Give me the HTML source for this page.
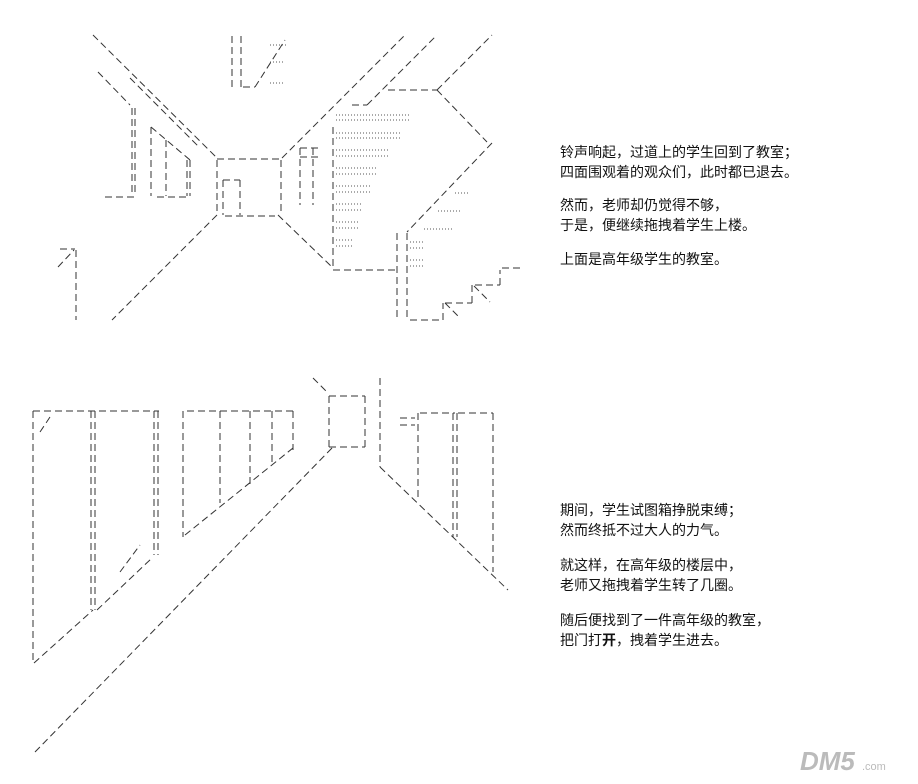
<!DOCTYPE html>
<html><head><meta charset="utf-8"><style>
html,body{margin:0;padding:0;background:#fff;width:918px;height:784px;overflow:hidden;position:relative}
svg{position:absolute;left:0;top:0}
.t{position:absolute;left:560px;font:14px "Liberation Sans","Noto Sans CJK SC",sans-serif;color:#111;line-height:20px;white-space:nowrap}
</style></head><body>
<svg width="918" height="784" viewBox="0 0 918 784">
<g stroke="#333" stroke-width="1" fill="none" stroke-dasharray="7 4">
<line x1="93" y1="35" x2="217" y2="158"/>
<line x1="98" y1="72" x2="130" y2="105"/>
<line x1="130" y1="78" x2="200" y2="148"/>
<line x1="217" y1="159" x2="282" y2="159"/>
<line x1="217" y1="160" x2="217" y2="215"/>
<line x1="281" y1="160" x2="281" y2="215"/>
<line x1="223" y1="180" x2="240" y2="180"/>
<line x1="223" y1="180" x2="223" y2="215"/>
<line x1="240" y1="180" x2="240" y2="215"/>
<line x1="225" y1="216" x2="275" y2="216"/>
<line x1="217" y1="215" x2="112" y2="320"/>
<line x1="282" y1="158" x2="405" y2="35"/>
<line x1="367" y1="105" x2="437" y2="35"/>
<line x1="352" y1="105" x2="367" y2="105"/>
<line x1="388" y1="90" x2="437" y2="90"/>
<line x1="437" y1="90" x2="492" y2="35"/>
<line x1="437" y1="90" x2="487" y2="142"/>
<line x1="492" y1="143" x2="407" y2="232"/>
<line x1="333" y1="127" x2="333" y2="268"/>
<line x1="333" y1="270" x2="397" y2="270"/>
<line x1="397" y1="233" x2="397" y2="318"/>
<line x1="407" y1="233" x2="407" y2="320"/>
<line x1="278" y1="215" x2="333" y2="268"/>
<line x1="300" y1="148" x2="318" y2="148"/>
<line x1="300" y1="157" x2="318" y2="157"/>
<line x1="300" y1="148" x2="300" y2="205"/>
<line x1="313" y1="148" x2="313" y2="205"/>
<line x1="410" y1="320" x2="443" y2="320"/>
<line x1="443" y1="320" x2="443" y2="303"/>
<line x1="445" y1="303" x2="472" y2="303"/>
<line x1="472" y1="303" x2="472" y2="285"/>
<line x1="475" y1="285" x2="500" y2="285"/>
<line x1="500" y1="285" x2="500" y2="270"/>
<line x1="502" y1="268" x2="520" y2="268"/>
<line x1="445" y1="303" x2="460" y2="318"/>
<line x1="474" y1="286" x2="490" y2="302"/>
<line x1="132" y1="108" x2="132" y2="196"/>
<line x1="135" y1="108" x2="135" y2="196"/>
<line x1="105" y1="197" x2="135" y2="197"/>
<line x1="151" y1="127" x2="151" y2="196"/>
<line x1="166" y1="140" x2="166" y2="196"/>
<line x1="187" y1="160" x2="187" y2="196"/>
<line x1="190" y1="160" x2="190" y2="196"/>
<line x1="157" y1="197" x2="189" y2="197"/>
<line x1="151" y1="127" x2="190" y2="160"/>
<line x1="232" y1="36" x2="232" y2="87"/>
<line x1="241" y1="36" x2="241" y2="87"/>
<line x1="243" y1="87" x2="255" y2="87"/>
<line x1="255" y1="87" x2="285" y2="40"/>
<line x1="60" y1="249" x2="75" y2="249"/>
<line x1="58" y1="267" x2="74" y2="250"/>
<line x1="76" y1="250" x2="76" y2="320"/>
<line x1="33" y1="411" x2="159" y2="411"/>
<line x1="33" y1="411" x2="33" y2="663"/>
<line x1="91" y1="411" x2="91" y2="610"/>
<line x1="95" y1="411" x2="95" y2="610"/>
<line x1="154" y1="411" x2="154" y2="555"/>
<line x1="158" y1="411" x2="158" y2="555"/>
<line x1="34" y1="663" x2="93" y2="610"/>
<line x1="97" y1="610" x2="152" y2="558"/>
<line x1="187" y1="411" x2="293" y2="411"/>
<line x1="183" y1="411" x2="183" y2="537"/>
<line x1="220" y1="411" x2="220" y2="503"/>
<line x1="250" y1="411" x2="250" y2="484"/>
<line x1="272" y1="411" x2="272" y2="465"/>
<line x1="293" y1="411" x2="293" y2="450"/>
<line x1="185" y1="535" x2="293" y2="448"/>
<line x1="332" y1="448" x2="35" y2="752"/>
<line x1="329" y1="396" x2="365" y2="396"/>
<line x1="329" y1="396" x2="329" y2="447"/>
<line x1="365" y1="396" x2="365" y2="447"/>
<line x1="329" y1="447" x2="365" y2="447"/>
<line x1="313" y1="378" x2="327" y2="392"/>
<line x1="380" y1="378" x2="380" y2="467"/>
<line x1="380" y1="467" x2="508" y2="590"/>
<line x1="420" y1="413" x2="455" y2="413"/>
<line x1="458" y1="413" x2="493" y2="413"/>
<line x1="418" y1="413" x2="418" y2="500"/>
<line x1="453" y1="413" x2="453" y2="537"/>
<line x1="457" y1="413" x2="457" y2="537"/>
<line x1="493" y1="413" x2="493" y2="572"/>
<line x1="400" y1="418" x2="415" y2="418"/>
<line x1="400" y1="425" x2="415" y2="425"/>
<line x1="40" y1="432" x2="50" y2="417"/>
<line x1="120" y1="572" x2="140" y2="545"/>
</g>
<g stroke="#555" stroke-width="1" stroke-dasharray="1 2">
<line x1="336" y1="115" x2="411" y2="115"/><line x1="336" y1="120" x2="411" y2="120"/>
<line x1="336" y1="133" x2="402" y2="133"/><line x1="336" y1="138" x2="402" y2="138"/>
<line x1="336" y1="150" x2="389" y2="150"/><line x1="336" y1="156" x2="389" y2="156"/>
<line x1="336" y1="168" x2="377" y2="168"/><line x1="336" y1="174" x2="377" y2="174"/>
<line x1="336" y1="186" x2="371" y2="186"/><line x1="336" y1="192" x2="371" y2="192"/>
<line x1="336" y1="204" x2="362" y2="204"/><line x1="336" y1="210" x2="362" y2="210"/>
<line x1="336" y1="222" x2="359" y2="222"/><line x1="336" y1="228" x2="359" y2="228"/>
<line x1="336" y1="240" x2="353" y2="240"/><line x1="336" y1="246" x2="353" y2="246"/>
<line x1="410" y1="242" x2="424" y2="242"/><line x1="410" y1="248" x2="424" y2="248"/>
<line x1="410" y1="260" x2="424" y2="260"/><line x1="410" y1="266" x2="424" y2="266"/>
<line x1="455" y1="193" x2="468" y2="193"/><line x1="438" y1="211" x2="460" y2="211"/>
<line x1="424" y1="229" x2="453" y2="229"/><line x1="270" y1="45" x2="287" y2="45"/>
<line x1="270" y1="62" x2="283" y2="62"/><line x1="270" y1="83" x2="283" y2="83"/>
</g>
<text x="800" y="770" font-family="Liberation Sans,sans-serif" font-size="26" font-weight="bold" font-style="italic" fill="#bbb">DM5</text>
<text x="862" y="770" font-family="Liberation Sans,sans-serif" font-size="11" fill="#bbb">.com</text>
</svg>
<div class="t" style="top:142px">铃声响起，过道上的学生回到了教室；<br>四面围观着的观众们，此时都已退去。</div>
<div class="t" style="top:195px">然而，老师却仍觉得不够，<br>于是，便继续拖拽着学生上楼。</div>
<div class="t" style="top:249px">上面是高年级学生的教室。</div>
<div class="t" style="top:500px">期间，学生试图箱挣脱束缚；<br>然而终抵不过大人的力气。</div>
<div class="t" style="top:555px">就这样，在高年级的楼层中，<br>老师又拖拽着学生转了几圈。</div>
<div class="t" style="top:610px">随后便找到了一件高年级的教室，<br>把门打<b>开</b>，拽着学生进去。</div>
</body></html>
